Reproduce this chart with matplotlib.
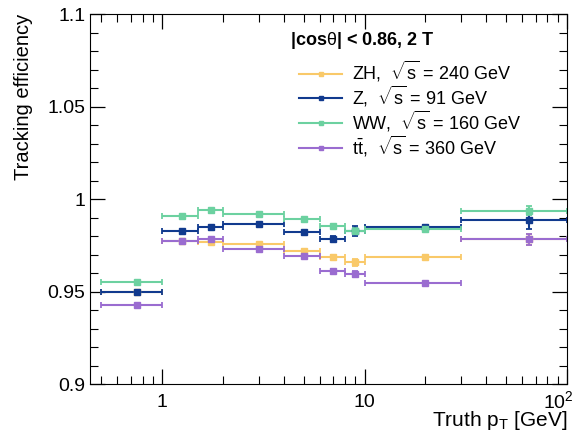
import matplotlib
matplotlib.use("Agg")
import matplotlib.pyplot as plt
import matplotlib.transforms as mtransforms
from matplotlib.lines import Line2D

# pT bins [GeV]
bin_lo = [0.5, 1.0, 1.5, 2.0, 4.0, 6.0, 8.0, 10.0, 30.0]
bin_hi = [1.0, 1.5, 2.0, 4.0, 6.0, 8.0, 10.0, 30.0, 100.0]
pt = [0.75, 1.25, 1.75, 3.0, 5.0, 7.0, 9.0, 20.0, 65.0]

# efficiencies
eff_zh = [0.9497, 0.9774, 0.9770, 0.9758, 0.9720, 0.9686, 0.9658, 0.9689, 0.9782]
eff_z = [0.9497, 0.9828, 0.9848, 0.9866, 0.9820, 0.9787, 0.9826, 0.9848, 0.9886]
eff_ww = [0.9551, 0.9908, 0.9942, 0.9920, 0.9892, 0.9852, 0.9826, 0.9838, 0.9937]
eff_tt = [0.9430, 0.9775, 0.9784, 0.9733, 0.9690, 0.9612, 0.9595, 0.9545, 0.9784]

err_zh = [0.0004, 0.0004, 0.0006, 0.0004, 0.0006, 0.0010, 0.0018, 0.0010, 0.0030]
err_z = [0.0008, 0.0004, 0.0006, 0.0004, 0.0008, 0.0016, 0.0026, 0.0012, 0.0050]
err_ww = [0.0004, 0.0004, 0.0006, 0.0004, 0.0006, 0.0010, 0.0016, 0.0010, 0.0025]
err_tt = [0.0004, 0.0004, 0.0006, 0.0004, 0.0006, 0.0012, 0.0016, 0.0008, 0.0030]

labels = [r"ZH,  $\sqrt{\mathrm{s}}$ = 240 GeV",
          r"Z,  $\sqrt{\mathrm{s}}$ = 91 GeV",
          r"WW,  $\sqrt{\mathrm{s}}$ = 160 GeV",
          r"$\mathrm{t\bar{t}}$,  $\sqrt{\mathrm{s}}$ = 360 GeV"]
colors = ["#F9C969", "#113A8E", "#6CD1A0", "#9A6CD0"]

plt.rcParams['font.family'] = ['Liberation Sans', 'DejaVu Sans']
plt.rcParams['mathtext.fontset'] = 'custom'
plt.rcParams['mathtext.rm'] = 'Liberation Sans'
plt.rcParams['mathtext.it'] = 'Liberation Sans:italic'
plt.rcParams['mathtext.bf'] = 'Liberation Sans:bold'

fig = plt.figure(figsize=(5.75, 4.4), dpi=100)
ax = fig.add_axes([0.1565, 0.127, 0.8295, 0.841])

xerr_lo = [p - lo for p, lo in zip(pt, bin_lo)]
xerr_hi = [hi - p for p, hi in zip(pt, bin_hi)]

handles = []
for eff, err, lab, col in zip([eff_zh, eff_z, eff_ww, eff_tt],
                              [err_zh, err_z, err_ww, err_tt], labels, colors):
    ax.errorbar(pt, eff, yerr=err, xerr=[xerr_lo, xerr_hi], fmt='s', color=col,
                markersize=4, elinewidth=1.5, capsize=2, capthick=1.3,
                linestyle='none')
    handles.append(Line2D([], [], color=col, linewidth=1.5, marker='s',
                          markersize=3))

ax.set_xscale('log')
ax.set_xlim(0.44, 100)
ax.set_ylim(0.9, 1.1)
ax.set_xticks([1, 10, 100])
ax.set_xticklabels(['1', '10', r'$10^2$'])
ax.set_yticks([0.9, 0.95, 1.0, 1.05, 1.1])
ax.set_yticklabels(['0.9', '0.95', '1', '1.05', '1.1'])
ax.set_yticks([0.9 + 0.01 * i for i in range(21)], minor=True)

ax.tick_params(which='both', direction='in', top=True, right=True, labelsize=14)
ax.tick_params(which='major', length=11, width=0.9)
ax.tick_params(which='minor', length=5.5, width=0.8)
ax.tick_params(axis='x', which='both', length=6, pad=7)
ax.tick_params(axis='x', which='major', length=11)

# pull the last x tick label in (and up) so it stays on the canvas
last = ax.get_xticklabels()[-1]
last.set_transform(last.get_transform() +
                   mtransforms.ScaledTranslation(-9 / 100, 4 / 100, fig.dpi_scale_trans))

ax.set_ylabel('Tracking efficiency', fontsize=14.5, loc='top')
ax.yaxis.set_label_coords(-0.12, 1.0)
ax.set_xlabel(r'Truth p$_\mathrm{T}$ [GeV]', fontsize=15, loc='right')
ax.xaxis.set_label_coords(1.0, -0.068)

ax.text(0.42, 0.928, r'|cos$\mathrm{\theta}$| < 0.86, 2 T', transform=ax.transAxes,
        fontsize=13, fontweight='bold', va='center')

ax.legend(handles, labels, loc='upper left', bbox_to_anchor=(0.423, 0.897),
          frameon=False, fontsize=13, handlelength=2.4, handletextpad=0.55,
          labelspacing=-0.02, borderaxespad=0)

fig.savefig('out.png', dpi=100)
